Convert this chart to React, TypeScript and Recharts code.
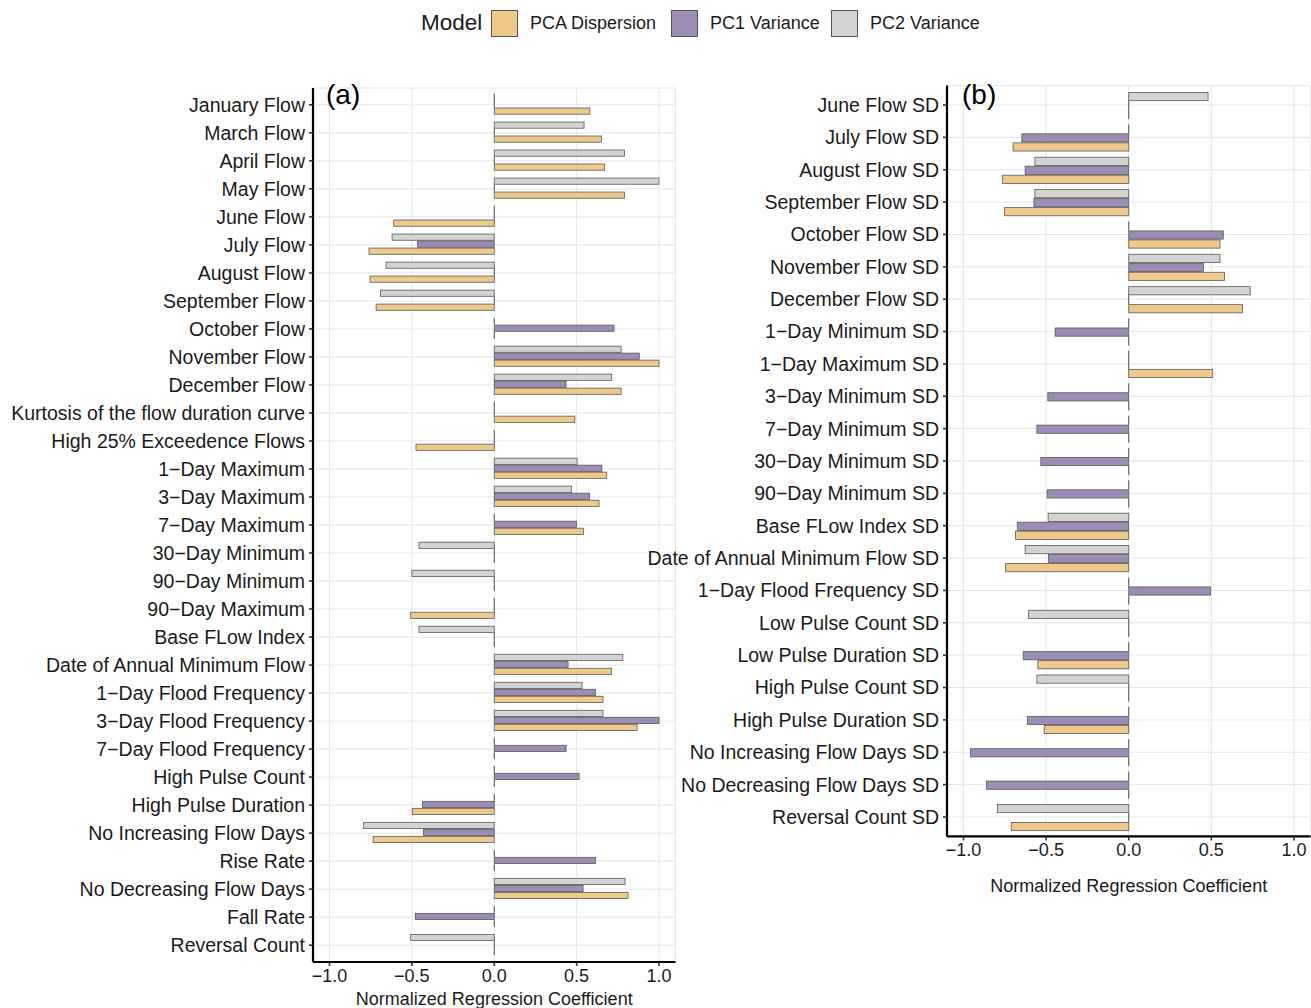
import React from 'react';
import { BarChart, Bar, XAxis, YAxis, CartesianGrid } from 'recharts';

// ---------- Panel (a) ----------
const categoriesA = [
  'January Flow', 'March Flow', 'April Flow', 'May Flow', 'June Flow', 'July Flow',
  'August Flow', 'September Flow', 'October Flow', 'November Flow', 'December Flow',
  'Kurtosis of the flow duration curve', 'High 25% Exceedence Flows', '1\u2212Day Maximum',
  '3\u2212Day Maximum', '7\u2212Day Maximum', '30\u2212Day Minimum', '90\u2212Day Minimum',
  '90\u2212Day Maximum', 'Base FLow Index', 'Date of Annual Minimum Flow',
  '1\u2212Day Flood Frequency', '3\u2212Day Flood Frequency', '7\u2212Day Flood Frequency',
  'High Pulse Count', 'High Pulse Duration', 'No Increasing Flow Days', 'Rise Rate',
  'No Decreasing Flow Days', 'Fall Rate', 'Reversal Count',
];
const pcaA = [
  0.58, 0.65, 0.67, 0.79, -0.61, -0.76, -0.754, -0.717, 0, 1.0, 0.77,
  0.489, -0.475, 0.683, 0.636, 0.541, 0, 0, -0.507, 0, 0.711,
  0.66, 0.867, 0, 0, -0.497, -0.735, 0, 0.812, 0, 0,
];
const pc1A = [
  0, 0, 0, 0, 0, -0.465, 0, 0, 0.727, 0.88, 0.436,
  0, 0, 0.653, 0.578, 0.499, 0, 0, 0, 0, 0.448,
  0.614, 1.0, 0.436, 0.515, -0.436, -0.43, 0.614, 0.539, -0.479, 0,
];
const pc2A = [
  0, 0.545, 0.79, 1.0, 0, -0.62, -0.657, -0.69, 0, 0.77, 0.713,
  0, 0, 0.503, 0.47, 0, -0.457, -0.5, 0, -0.457, 0.78,
  0.533, 0.66, 0, 0, 0, -0.794, 0, 0.794, 0, -0.507,
];

// ---------- Panel (b) ----------
const categoriesB = [
  'June Flow SD', 'July Flow SD', 'August Flow SD', 'September Flow SD', 'October Flow SD',
  'November Flow SD', 'December Flow SD', '1\u2212Day Minimum SD', '1\u2212Day Maximum SD',
  '3\u2212Day Minimum SD', '7\u2212Day Minimum SD', '30\u2212Day Minimum SD', '90\u2212Day Minimum SD',
  'Base FLow Index SD', 'Date of Annual Minimum Flow SD', '1\u2212Day Flood Frequency SD',
  'Low Pulse Count SD', 'Low Pulse Duration SD', 'High Pulse Count SD', 'High Pulse Duration SD',
  'No Increasing Flow Days SD', 'No Decreasing Flow Days SD', 'Reversal Count SD',
];
const pcaB = [
  0, -0.70, -0.765, -0.751, 0.552, 0.58, 0.689, 0, 0.508,
  0, 0, 0, 0, -0.685, -0.745, 0,
  0, -0.55, 0, -0.512, 0, 0, -0.711,
];
const pc1B = [
  0, -0.647, -0.627, -0.574, 0.572, 0.452, 0, -0.446, 0,
  -0.49, -0.556, -0.532, -0.494, -0.675, -0.486, 0.496,
  0, -0.639, 0, -0.614, -0.958, -0.861, 0,
];
const pc2B = [
  0.48, 0, -0.568, -0.568, 0, 0.552, 0.735, 0, 0,
  0, 0, 0, 0, -0.488, -0.627, 0,
  -0.606, 0, -0.556, 0, 0, 0, -0.795,
];

const xTicks = [-1, -0.5, 0, 0.5, 1];
const seriesNames = ['PCA Dispersion', 'PC1 Variance', 'PC2 Variance'];

const COLORS = { pca: '#EFC98B', pc1: '#9B8DB4', pc2: '#D3D3D3' };
const FONT = '"Liberation Sans", Arial, Helvetica, sans-serif';

const build = (cats: string[], pca: number[], pc1: number[], pc2: number[]) =>
  cats.map((name, i) => ({ name, pca: pca[i], pc1: pc1[i], pc2: pc2[i] }));

const dataA = build(categoriesA, pcaA, pc1A, pc2A);
const dataB = build(categoriesB, pcaB, pc1B, pc2B);

const fmt = (v: number) => (v < 0 ? '\u2212' + Math.abs(v).toFixed(1) : v.toFixed(1));

const BarShape = (props: any) => {
  const { x, y, width, height, fill } = props;
  if (x == null || y == null || isNaN(x) || isNaN(y)) return null;
  const w = Math.abs(width || 0);
  if (w < 0.5) {
    return <line x1={x} x2={x} y1={y} y2={y + height} stroke="#4d4d4d" strokeWidth={1} />;
  }
  const x0 = Math.min(x, x + width);
  return (
    <rect x={x0} y={y + 0.4} width={w} height={height - 0.8} fill={fill} stroke="#5a5a5a" strokeWidth={0.8} />
  );
};

type PanelProps = {
  data: any[];
  left: number;
  width: number;
  height: number;
  top: number;
  yWidth: number;
  xHeight: number;
  pad: number;
  labelOffset: number;
  rightMargin: number;
};

const Panel = ({ data, left, width, height, top, yWidth, xHeight, pad, labelOffset, rightMargin }: PanelProps) => (
  <div style={{ position: 'absolute', left, top: 0, width, height }}>
    <BarChart
      width={width}
      height={height}
      data={data}
      layout="vertical"
      margin={{ top, right: rightMargin, bottom: 0, left: 0 }}
      barCategoryGap="10%"
      barGap={0}
    >
      <CartesianGrid stroke="#e6e6e6" strokeWidth={1} />
      <XAxis
        type="number"
        domain={[-1.1, 1.1]}
        ticks={xTicks}
        allowDataOverflow
        tickFormatter={fmt}
        height={xHeight}
        axisLine={{ stroke: '#000', strokeWidth: 2.2 }}
        tickLine={{ stroke: '#333', strokeWidth: 1.6 }}
        tickSize={4}
        tickMargin={3}
        tick={{ fill: '#1a1a1a', fontSize: 18, fontFamily: FONT }}
        label={{
          value: 'Normalized Regression Coefficient',
          position: 'insideBottom',
          offset: labelOffset,
          style: { fill: '#1a1a1a', fontSize: 18, fontFamily: FONT },
        }}
      />
      <YAxis
        type="category"
        dataKey="name"
        width={yWidth}
        interval={0}
        padding={{ top: pad, bottom: pad }}
        axisLine={{ stroke: '#000', strokeWidth: 2.2 }}
        tickLine={{ stroke: '#333', strokeWidth: 1.6 }}
        tickSize={4}
        tickMargin={4}
        tick={{ fill: '#1a1a1a', fontSize: 19.5, fontFamily: FONT }}
      />
      <Bar dataKey="pc2" name={seriesNames[2]} fill={COLORS.pc2} shape={BarShape} isAnimationActive={false} />
      <Bar dataKey="pc1" name={seriesNames[1]} fill={COLORS.pc1} shape={BarShape} isAnimationActive={false} />
      <Bar dataKey="pca" name={seriesNames[0]} fill={COLORS.pca} shape={BarShape} isAnimationActive={false} />
    </BarChart>
  </div>
);

const Swatch = ({ left, color }: { left: number; color: string }) => (
  <div
    style={{
      position: 'absolute',
      left,
      top: 10,
      width: 27,
      height: 27,
      background: color,
      border: '1px solid #555',
      boxSizing: 'border-box',
    }}
  />
);

const LegendText = ({ left, text, size }: { left: number; text: string; size: number }) => (
  <div
    style={{
      position: 'absolute',
      left,
      top: 23 - size * 0.58,
      fontSize: size,
      fontFamily: FONT,
      color: '#1a1a1a',
      whiteSpace: 'nowrap',
      lineHeight: 1.15 + 'em',
    }}
  >
    {text}
  </div>
);

export default function App() {
  return (
    <div
      style={{
        position: 'absolute',
        left: 0,
        top: 0,
        width: 1311,
        height: 1008,
        background: '#fff',
        overflow: 'hidden',
        fontFamily: FONT,
      }}
    >
      <Panel data={dataA} left={0} width={680} height={1008} top={88} yWidth={313} xHeight={46} pad={2.8} labelOffset={3} rightMargin={4.5} />
      <Panel data={dataB} left={640} width={671} height={900} top={85.6} yWidth={307} xHeight={63.6} pad={3.24} labelOffset={8.5} rightMargin={0.5} />

      <div style={{ position: 'absolute', left: 326, top: 79, fontSize: 28, fontFamily: FONT, color: '#000', lineHeight: '32px' }}>(a)</div>
      <div style={{ position: 'absolute', left: 962, top: 79, fontSize: 28, fontFamily: FONT, color: '#000', lineHeight: '32px' }}>(b)</div>

      <LegendText left={421} text="Model" size={22.5} />
      <Swatch left={491} color={COLORS.pca} />
      <LegendText left={530} text={seriesNames[0]} size={18} />
      <Swatch left={671} color={COLORS.pc1} />
      <LegendText left={710} text={seriesNames[1]} size={18} />
      <Swatch left={831} color={COLORS.pc2} />
      <LegendText left={870} text={seriesNames[2]} size={18} />
    </div>
  );
}
